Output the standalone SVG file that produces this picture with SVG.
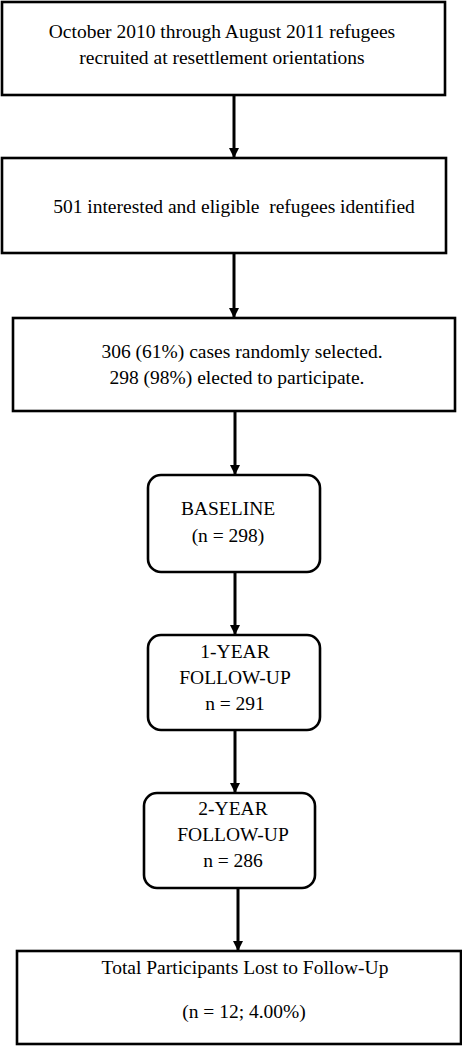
<svg xmlns="http://www.w3.org/2000/svg" width="462" height="1046" viewBox="0 0 462 1046">
<style>
.box{fill:#fff;stroke:#000;stroke-width:2.6}
.t{font-family:"Liberation Serif","Times New Roman",serif;font-size:19.5px;fill:#000;text-anchor:middle}
.c{stroke:#000;stroke-width:3;fill:none}
</style>
<defs>
<marker id="ah" markerWidth="10" markerHeight="10" refX="9" refY="5" orient="auto" markerUnits="userSpaceOnUse">
<path d="M0,0 L10,5 L0,10 Z" fill="#000"/>
</marker>
</defs>
<rect width="462" height="1046" fill="#fff"/>
<g id="connectors">
<line class="c" x1="234" y1="96" x2="234" y2="157" marker-end="url(#ah)"/>
<line class="c" x1="234" y1="254" x2="234" y2="317" marker-end="url(#ah)"/>
<line class="c" x1="235" y1="412" x2="235" y2="474" marker-end="url(#ah)"/>
<line class="c" x1="235" y1="573" x2="235" y2="634" marker-end="url(#ah)"/>
<line class="c" x1="235" y1="731" x2="235" y2="792" marker-end="url(#ah)"/>
<line class="c" x1="238" y1="889" x2="238" y2="950" marker-end="url(#ah)"/>
</g>
<g id="n1">
<rect class="box" x="2" y="2" width="443" height="93"/>
<text class="t" x="222" y="38">October 2010 through August 2011 refugees</text>
<text class="t" x="222" y="64">recruited at resettlement orientations</text>
</g>
<g id="n2">
<rect class="box" x="2" y="158" width="444" height="95"/>
<text class="t" x="234" y="213" xml:space="preserve">501 interested and eligible  refugees identified</text>
</g>
<g id="n3">
<rect class="box" x="13" y="318" width="442" height="93"/>
<text class="t" x="242" y="358">306 (61%) cases randomly selected.</text>
<text class="t" x="237" y="384">298 (98%) elected to participate.</text>
</g>
<g id="n4">
<rect class="box" x="148" y="475" width="172" height="97" rx="13"/>
<text class="t" x="228" y="515">BASELINE</text>
<text class="t" x="228" y="542">(n = 298)</text>
</g>
<g id="n5">
<rect class="box" x="148" y="635" width="172" height="95" rx="13"/>
<text class="t" x="235" y="658">1-YEAR</text>
<text class="t" x="235" y="684">FOLLOW-UP</text>
<text class="t" x="235" y="710">n = 291</text>
</g>
<g id="n6">
<rect class="box" x="144" y="793" width="171" height="95" rx="13"/>
<text class="t" x="233" y="815">2-YEAR</text>
<text class="t" x="233" y="841">FOLLOW-UP</text>
<text class="t" x="233" y="867">n = 286</text>
</g>
<g id="n7">
<rect class="box" x="17" y="951" width="444" height="93"/>
<text class="t" x="245" y="974">Total Participants Lost to Follow-Up</text>
<text class="t" x="244" y="1018">(n = 12; 4.00%)</text>
</g>
</svg>
